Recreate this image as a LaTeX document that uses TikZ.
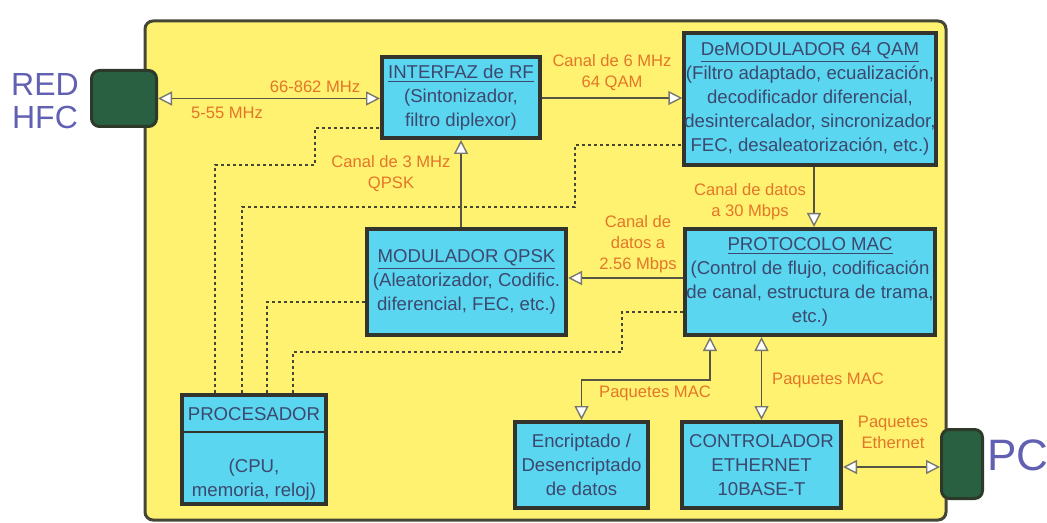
\documentclass[tikz,border=0pt]{standalone}
\usepackage{fontspec}
\setmainfont{Liberation Sans}
\usetikzlibrary{arrows.meta,calc}
\definecolor{frameyellow}{RGB}{255,242,112}
\definecolor{frameline}{RGB}{70,70,55}
\definecolor{boxfill}{RGB}{90,214,240}
\definecolor{boxline}{RGB}{50,52,45}
\definecolor{boxtext}{RGB}{60,72,110}
\definecolor{lblcol}{RGB}{228,118,40}
\definecolor{netgreen}{RGB}{42,96,66}
\definecolor{netline}{RGB}{45,58,42}
\definecolor{nettext}{RGB}{98,96,178}
\definecolor{wirecol}{RGB}{85,85,70}
\definecolor{buscol}{RGB}{70,70,55}
\definecolor{tipcol}{RGB}{120,120,110}
\tikzset{
 blk/.style={draw=boxline, line width=2pt, fill=boxfill, text=boxtext,
   font=\fontsize{9.3}{12}\selectfont, align=center, inner sep=0pt},
 lbl/.style={text=lblcol, font=\fontsize{8.3}{10.5}\selectfont, align=center, inner sep=0pt},
 netbox/.style={draw=netline, line width=1.5pt, fill=netgreen, rounded corners=4pt, inner sep=0pt},
 nettxt/.style={text=nettext, inner sep=0pt, align=center},
 wire/.style={draw=wirecol, line width=0.6pt},
 opentip/.tip={Triangle[length=7pt,width=7pt,color=tipcol,fill=white,line width=0.7pt]},
 tipend/.style={-opentip},
 tipboth/.style={opentip-opentip},
 bus/.style={draw=buscol, line width=0.65pt, dash pattern=on 1.6pt off 1.4pt},
}
\begin{document}
\begin{tikzpicture}[x=0.5pt,y=-0.5pt]
\useasboundingbox (0,0) rectangle (1047,523);
% frame
\draw[fill=frameyellow, draw=frameline, line width=1.5pt, rounded corners=4pt] (145,21) rectangle (946,520);
% network end boxes
\node[netbox, minimum width=32.5pt, minimum height=28pt] (hfc) at (124,98.5) {};
\node[netbox, minimum width=20.5pt, minimum height=34.5pt] (pc) at (962,464) {};
\node[nettxt, font=\fontsize{16}{16.5}\selectfont] (redtxt) at (45,101) {RED\\HFC};
\node[nettxt, font=\fontsize{22}{22}\selectfont] (pctxt) at (1018,455) {PC};
% blocks
\node[blk, minimum width=79pt, minimum height=40.5pt] (intf) at (461,97.5)
  {\underline{INTERFAZ de RF}\\(Sintonizador,\\filtro diplexor)};
\node[blk, minimum width=125pt, minimum height=66pt] (demod) at (810,99)
  {\underline{DeMODULADOR 64 QAM}\\(Filtro adaptado, ecualización,\\decodificador diferencial,\\desintercalador, sincronizador,\\FEC, desaleatorización, etc.)};
\node[blk, minimum width=99.5pt, minimum height=53pt] (mod) at (466.5,282)
  {\underline{MODULADOR QPSK}\\(Aleatorizador, Codific.\\diferencial, FEC, etc.)};
\node[blk, minimum width=125pt, minimum height=53pt] (mac) at (810,282)
  {\underline{PROTOCOLO MAC}\\(Control de flujo, codificación\\de canal, estructura de trama,\\etc.)};
\node[blk, minimum width=72pt, minimum height=54.5pt] (proc) at (254,449.5) {};
\node[blk, minimum width=66.5pt, minimum height=43pt] (enc) at (581.5,465)
  {Encriptado /\\Desencriptado\\de datos};
\node[blk, minimum width=79.5pt, minimum height=43pt] (ctrl) at (761.5,465)
  {CONTROLADOR\\ETHERNET\\10BASE-T};
\node[text=boxtext, font=\fontsize{9.3}{12}\selectfont, inner sep=0pt] (proctitle) at (254,414) {PROCESADOR};
\node[text=boxtext, font=\fontsize{9.3}{12}\selectfont, align=center, inner sep=0pt] (procbody) at (254,480) {(CPU,\\memoria, reloj)};
\draw[draw=boxline, line width=1pt] (proc.west |- 0,432) -- (proc.east |- 0,432);
% control bus (dotted)
\draw[bus] (215,0 |- proc.north) |- (315,165) |- (intf.west |- 0,128);
\draw[bus] (242,0 |- proc.north) |- (575,207) |- (demod.west |- 0,145);
\draw[bus] (267,0 |- proc.north) |- (mod.west |- 0,302);
\draw[bus] (293,0 |- proc.north) |- (622,352) |- (mac.west |- 0,312);
% connectors
\draw[wire, tipboth] (hfc.east) -- (hfc.east -| intf.west);
\draw[wire, tipend] (intf.east |- 0,98) -- (demod.west |- 0,98);
\draw[wire, tipend] (demod.south -| 814,0) -- (mac.north -| 814,0);
\draw[wire, tipend] (mac.west |- 0,278) -- (mod.east |- 0,278);
\draw[wire, tipend] (mod.north -| intf.south) -- (intf.south);
\draw[wire, tipboth] (mac.south -| 710,0) -- (710,380) -| (enc.north);
\draw[wire, tipboth] (mac.south -| ctrl.north) -- (ctrl.north);
\draw[wire, tipboth] (ctrl.east |- 0,467) -- (pc.west |- 0,467);
% labels
\node[lbl] (l1) at (315,87) {66-862 MHz};
\node[lbl] (l2) at (227,113) {5-55 MHz};
\node[lbl] (l3) at (612,72.5) {Canal de 6 MHz\\64 QAM};
\node[lbl] (l4) at (391,174) {Canal de 3 MHz\\QPSK};
\node[lbl] (l5) at (750,202) {Canal de datos\\a 30 Mbps};
\node[lbl] (l6) at (638,244) {Canal de\\datos a\\2.56 Mbps};
\node[lbl] (l7) at (655,393) {Paquetes MAC};
\node[lbl] (l8) at (828,380) {Paquetes MAC};
\node[lbl] (l9) at (893,432) {Paquetes\\Ethernet};
\end{tikzpicture}
\end{document}
